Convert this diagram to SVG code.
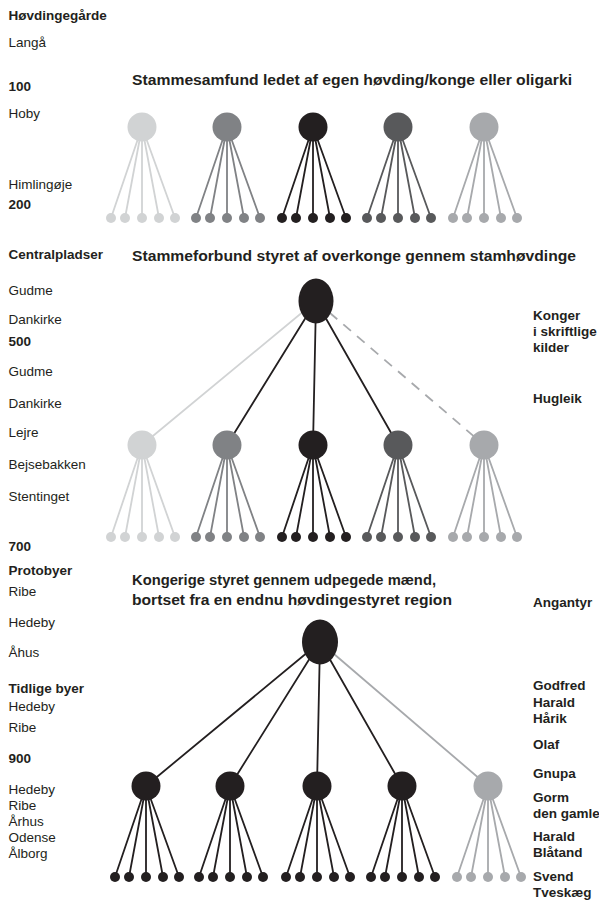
<svg xmlns="http://www.w3.org/2000/svg" width="599" height="903" viewBox="0 0 599 903">
<style>
text{font-family:"Liberation Sans",Arial,Helvetica,sans-serif;font-size:13.5px;fill:#231f20}
.b{font-weight:bold}
.h{font-weight:bold;font-size:14.5px}
.f1{fill:#d1d3d4}.f2{fill:#808285}.f3{fill:#231f20}.f4{fill:#58595b}.f5{fill:#a7a9ac}
.k1,.k2,.k3,.k4,.k5{fill:none;stroke-width:1.8;stroke-linecap:round}
.k1{stroke:#d1d3d4}.k2{stroke:#808285}.k3{stroke:#231f20}.k4{stroke:#58595b}.k5{stroke:#a7a9ac}
.dash{stroke-dasharray:10 8;stroke-linecap:butt}
</style>
<g id="connectors">
<path class="k1" d="M142 127L111 218M142 127L125 218M142 127L142 218M142 127L159 218M142 127L175 218"/>
<path class="k2" d="M227 127L196 218M227 127L210 218M227 127L227 218M227 127L244 218M227 127L260 218"/>
<path class="k3" d="M313 127L282 218M313 127L296 218M313 127L313 218M313 127L330 218M313 127L346 218"/>
<path class="k4" d="M398 127L367 218M398 127L381 218M398 127L398 218M398 127L415 218M398 127L431 218"/>
<path class="k5" d="M484 127L453 218M484 127L467 218M484 127L484 218M484 127L501 218M484 127L517 218"/>
<path class="k1" d="M316 301L142 445"/>
<path class="k3" d="M316 301L227 445M316 301L313 445M316 301L398 445"/>
<path class="k5 dash" d="M316 301L484 445"/>
<path class="k1" d="M142 445L111 537M142 445L125 537M142 445L142 537M142 445L159 537M142 445L175 537"/>
<path class="k2" d="M227 445L196 537M227 445L210 537M227 445L227 537M227 445L244 537M227 445L260 537"/>
<path class="k3" d="M313 445L282 537M313 445L296 537M313 445L313 537M313 445L330 537M313 445L346 537"/>
<path class="k4" d="M398 445L367 537M398 445L381 537M398 445L398 537M398 445L415 537M398 445L431 537"/>
<path class="k5" d="M484 445L453 537M484 445L467 537M484 445L484 537M484 445L501 537M484 445L517 537"/>
<path class="k3" d="M320 642L146 786M320 642L230 786M320 642L317 786M320 642L402 786"/>
<path class="k5" d="M320 642L488 786"/>
<path class="k3" d="M146 786L115 877M146 786L129 877M146 786L146 877M146 786L163 877M146 786L179 877"/>
<path class="k3" d="M230 786L199 877M230 786L213 877M230 786L230 877M230 786L247 877M230 786L263 877"/>
<path class="k3" d="M317 786L286 877M317 786L300 877M317 786L317 877M317 786L334 877M317 786L350 877"/>
<path class="k3" d="M402 786L371 877M402 786L385 877M402 786L402 877M402 786L419 877M402 786L435 877"/>
<path class="k5" d="M488 786L457 877M488 786L471 877M488 786L488 877M488 786L505 877M488 786L521 877"/>
</g>
<g id="s1-t1" class="f1"><circle cx="142" cy="127" r="14.5"/><circle cx="111" cy="218" r="5"/><circle cx="125" cy="218" r="5"/><circle cx="142" cy="218" r="5"/><circle cx="159" cy="218" r="5"/><circle cx="175" cy="218" r="5"/></g>
<g id="s1-t2" class="f2"><circle cx="227" cy="127" r="14.5"/><circle cx="196" cy="218" r="5"/><circle cx="210" cy="218" r="5"/><circle cx="227" cy="218" r="5"/><circle cx="244" cy="218" r="5"/><circle cx="260" cy="218" r="5"/></g>
<g id="s1-t3" class="f3"><circle cx="313" cy="127" r="14.5"/><circle cx="282" cy="218" r="5"/><circle cx="296" cy="218" r="5"/><circle cx="313" cy="218" r="5"/><circle cx="330" cy="218" r="5"/><circle cx="346" cy="218" r="5"/></g>
<g id="s1-t4" class="f4"><circle cx="398" cy="127" r="14.5"/><circle cx="367" cy="218" r="5"/><circle cx="381" cy="218" r="5"/><circle cx="398" cy="218" r="5"/><circle cx="415" cy="218" r="5"/><circle cx="431" cy="218" r="5"/></g>
<g id="s1-t5" class="f5"><circle cx="484" cy="127" r="14.5"/><circle cx="453" cy="218" r="5"/><circle cx="467" cy="218" r="5"/><circle cx="484" cy="218" r="5"/><circle cx="501" cy="218" r="5"/><circle cx="517" cy="218" r="5"/></g>
<g id="s2-king" class="f3"><ellipse cx="316" cy="301" rx="17.5" ry="22.5"/></g>
<g id="s2-t1" class="f1"><circle cx="142" cy="445" r="14.5"/><circle cx="111" cy="537" r="5"/><circle cx="125" cy="537" r="5"/><circle cx="142" cy="537" r="5"/><circle cx="159" cy="537" r="5"/><circle cx="175" cy="537" r="5"/></g>
<g id="s2-t2" class="f2"><circle cx="227" cy="445" r="14.5"/><circle cx="196" cy="537" r="5"/><circle cx="210" cy="537" r="5"/><circle cx="227" cy="537" r="5"/><circle cx="244" cy="537" r="5"/><circle cx="260" cy="537" r="5"/></g>
<g id="s2-t3" class="f3"><circle cx="313" cy="445" r="14.5"/><circle cx="282" cy="537" r="5"/><circle cx="296" cy="537" r="5"/><circle cx="313" cy="537" r="5"/><circle cx="330" cy="537" r="5"/><circle cx="346" cy="537" r="5"/></g>
<g id="s2-t4" class="f4"><circle cx="398" cy="445" r="14.5"/><circle cx="367" cy="537" r="5"/><circle cx="381" cy="537" r="5"/><circle cx="398" cy="537" r="5"/><circle cx="415" cy="537" r="5"/><circle cx="431" cy="537" r="5"/></g>
<g id="s2-t5" class="f5"><circle cx="484" cy="445" r="14.5"/><circle cx="453" cy="537" r="5"/><circle cx="467" cy="537" r="5"/><circle cx="484" cy="537" r="5"/><circle cx="501" cy="537" r="5"/><circle cx="517" cy="537" r="5"/></g>
<g id="s3-king" class="f3"><ellipse cx="320" cy="642" rx="18" ry="22.5"/></g>
<g id="s3-t1" class="f3"><circle cx="146" cy="786" r="14.5"/><circle cx="115" cy="877" r="5"/><circle cx="129" cy="877" r="5"/><circle cx="146" cy="877" r="5"/><circle cx="163" cy="877" r="5"/><circle cx="179" cy="877" r="5"/></g>
<g id="s3-t2" class="f3"><circle cx="230" cy="786" r="14.5"/><circle cx="199" cy="877" r="5"/><circle cx="213" cy="877" r="5"/><circle cx="230" cy="877" r="5"/><circle cx="247" cy="877" r="5"/><circle cx="263" cy="877" r="5"/></g>
<g id="s3-t3" class="f3"><circle cx="317" cy="786" r="14.5"/><circle cx="286" cy="877" r="5"/><circle cx="300" cy="877" r="5"/><circle cx="317" cy="877" r="5"/><circle cx="334" cy="877" r="5"/><circle cx="350" cy="877" r="5"/></g>
<g id="s3-t4" class="f3"><circle cx="402" cy="786" r="14.5"/><circle cx="371" cy="877" r="5"/><circle cx="385" cy="877" r="5"/><circle cx="402" cy="877" r="5"/><circle cx="419" cy="877" r="5"/><circle cx="435" cy="877" r="5"/></g>
<g id="s3-t5" class="f5"><circle cx="488" cy="786" r="14.5"/><circle cx="457" cy="877" r="5"/><circle cx="471" cy="877" r="5"/><circle cx="488" cy="877" r="5"/><circle cx="505" cy="877" r="5"/><circle cx="521" cy="877" r="5"/></g>
<g id="headings">
<text class="h" x="132" y="85" textLength="440" lengthAdjust="spacingAndGlyphs">Stammesamfund ledet af egen høvding/konge eller oligarki</text>
<text class="h" x="132" y="261" textLength="444" lengthAdjust="spacingAndGlyphs">Stammeforbund styret af overkonge gennem stamhøvdinge</text>
<text class="h" x="132" y="585" textLength="304" lengthAdjust="spacingAndGlyphs">Kongerige styret gennem udpegede mænd,</text>
<text class="h" x="132" y="605" textLength="320" lengthAdjust="spacingAndGlyphs">bortset fra en endnu høvdingestyret region</text>
</g>
<g id="left-labels">
<text class="b" x="8.5" y="19.5">Høvdingegårde</text>
<text x="8.5" y="46.5">Langå</text>
<text class="b" x="8.5" y="90.5">100</text>
<text x="8.5" y="118.3">Hoby</text>
<text x="8.5" y="189.3">Himlingøje</text>
<text class="b" x="8.5" y="209">200</text>
<text class="b" x="8.5" y="259.3">Centralpladser</text>
<text x="8.5" y="295">Gudme</text>
<text x="8.5" y="324.3">Dankirke</text>
<text class="b" x="8.5" y="346">500</text>
<text x="8.5" y="376">Gudme</text>
<text x="8.5" y="407.7">Dankirke</text>
<text x="8.5" y="437.3">Lejre</text>
<text x="8.5" y="469.3">Bejsebakken</text>
<text x="8.5" y="501">Stentinget</text>
<text class="b" x="8.5" y="551">700</text>
<text class="b" x="8.5" y="575">Protobyer</text>
<text x="8.5" y="595.7">Ribe</text>
<text x="8.5" y="627">Hedeby</text>
<text x="8.5" y="657.3">Åhus</text>
<text class="b" x="8.5" y="692.7">Tidlige byer</text>
<text x="8.5" y="710.7">Hedeby</text>
<text x="8.5" y="731.7">Ribe</text>
<text class="b" x="8.5" y="762.7">900</text>
<text x="8.5" y="794">Hedeby</text>
<text x="8.5" y="810">Ribe</text>
<text x="8.5" y="825.7">Århus</text>
<text x="8.5" y="841.7">Odense</text>
<text x="8.5" y="857.5">Ålborg</text>
</g>
<g id="right-labels">
<text class="b" x="533" y="320">Konger</text>
<text class="b" x="533" y="335.7">i skriftlige</text>
<text class="b" x="533" y="352.3">kilder</text>
<text class="b" x="533" y="402.7">Hugleik</text>
<text class="b" x="533" y="606.7">Angantyr</text>
<text class="b" x="533" y="690">Godfred</text>
<text class="b" x="533" y="706.7">Harald</text>
<text class="b" x="533" y="722.7">Hårik</text>
<text class="b" x="533" y="749.3">Olaf</text>
<text class="b" x="533" y="778.3">Gnupa</text>
<text class="b" x="533" y="801.7">Gorm</text>
<text class="b" x="533" y="818.3">den gamle</text>
<text class="b" x="533" y="840.7">Harald</text>
<text class="b" x="533" y="856.7">Blåtand</text>
<text class="b" x="533" y="881">Svend</text>
<text class="b" x="533" y="896.7">Tveskæg</text>
</g>
</svg>
